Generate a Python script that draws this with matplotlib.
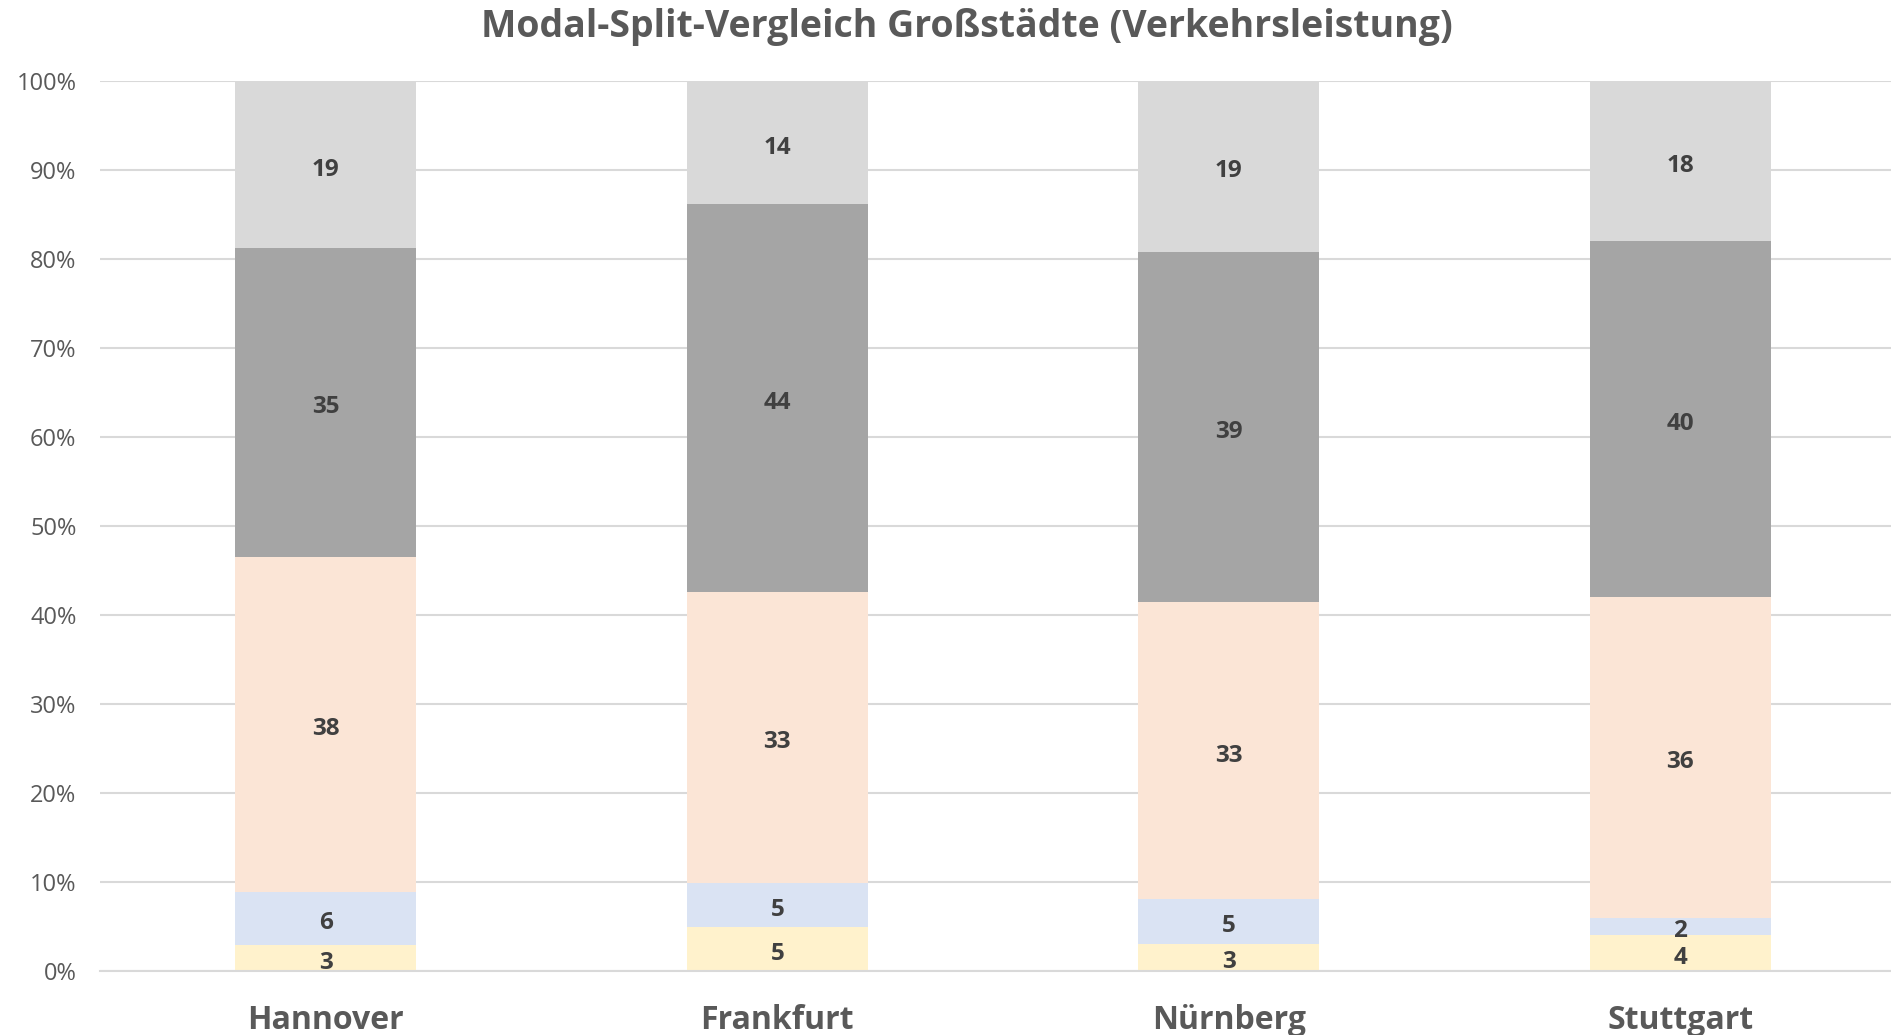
import matplotlib.pyplot as plt
import numpy as np

plt.rcParams['font.family'] = ['Open Sans', 'DejaVu Sans']

cities = ["Hannover", "Frankfurt", "Nürnberg", "Stuttgart"]
# segments from bottom to top
seg1 = [3, 5, 3, 4]
seg2 = [6, 5, 5, 2]
seg3 = [38, 33, 33, 36]
seg4 = [35, 44, 39, 40]
seg5 = [19, 14, 19, 18]
colors = ["#FFF2CC", "#DAE3F3", "#FBE5D6", "#A5A5A5", "#D9D9D9"]

series = [seg1, seg2, seg3, seg4, seg5]
data = np.array(series, dtype=float)
totals = data.sum(axis=0)
shares = data / totals * 100

fig = plt.figure(figsize=(18.91, 10.35), dpi=100)
ax = fig.add_axes([100 / 1891, 1 - 971 / 1035, 1806 / 1891, (971 - 81) / 1035])

x = np.arange(len(cities))
bottom = np.zeros(len(cities))
for i in range(len(series)):
    ax.bar(x, shares[i], 0.4, bottom=bottom, color=colors[i], zorder=2)
    for j in range(len(cities)):
        ax.annotate(str(series[i][j]), (x[j], bottom[j] + shares[i][j] / 2), xytext=(0, -3.5),
                    textcoords='offset points', ha='center', va='center',
                    fontsize=17.5, fontweight='bold', color='#404040', zorder=3)
    bottom = bottom + shares[i]

ax.set_xlim(-0.5, 3.5)
ax.set_ylim(0, 100)
ax.set_yticks(range(0, 101, 10))
ax.set_yticklabels([str(v) + "%" for v in range(0, 101, 10)], fontsize=17, color='#595959')
ax.yaxis.grid(True, color='#D9D9D9', linewidth=1.5, zorder=0)
ax.set_axisbelow(True)
ax.set_xticks(x)
ax.set_xticklabels(cities, fontsize=23, fontweight='bold', color='#595959')
ax.tick_params(axis='both', length=0)
ax.tick_params(axis='x', pad=24)
ax.tick_params(axis='y', pad=17)
for s in ['top', 'right', 'left']:
    ax.spines[s].set_visible(False)
ax.spines['bottom'].set_color('#D9D9D9')
ax.spines['bottom'].set_linewidth(1.5)

fig.text(967 / 1891, 1 - 27 / 1035, "Modal-Split-Vergleich Großstädte (Verkehrsleistung)", ha='center', va='center',
         fontsize=27, fontweight='bold', color='#595959')

plt.savefig("out.png", dpi=100)
